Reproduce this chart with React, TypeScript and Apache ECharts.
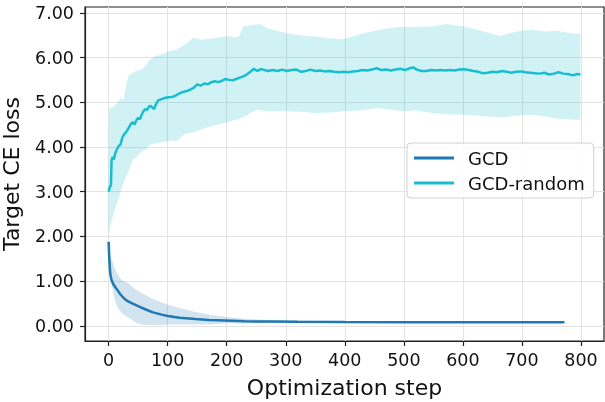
import React, { useEffect, useRef } from "react";
import * as echarts from "echarts";

const X_TICKS = [0, 100, 200, 300, 400, 500, 600, 700, 800];
const Y_TICKS = [0, 1, 2, 3, 4, 5, 6, 7];

// GCD (mean)
const GCD_STEPS = [0, 1, 2, 3, 5, 8, 12, 16, 20, 25, 30, 40, 50, 62, 75, 90, 100, 120, 147, 170, 197, 230, 270, 320, 400, 500, 600, 700, 772];
const GCD_MEAN = [1.88, 1.55, 1.3, 1.15, 1.02, 0.93, 0.85, 0.78, 0.7, 0.63, 0.57, 0.5, 0.44, 0.37, 0.3, 0.25, 0.22, 0.18, 0.15, 0.13, 0.12, 0.1, 0.095, 0.09, 0.085, 0.08, 0.08, 0.08, 0.08];
// GCD band
const GCD_BAND_STEPS = [0, 2, 4, 6, 10, 14, 17, 20, 25, 34, 45, 55, 62, 75, 90, 101, 120, 147, 170, 197, 230, 270, 320, 400, 500, 600, 700, 772];
const GCD_UPPER = [1.88, 1.65, 1.52, 1.45, 1.3, 1.18, 1.12, 1.05, 1.0, 0.95, 0.82, 0.74, 0.69, 0.6, 0.52, 0.47, 0.4, 0.31, 0.25, 0.2, 0.16, 0.13, 0.12, 0.11, 0.105, 0.1, 0.1, 0.1];
const GCD_LOWER = [1.88, 1.3, 1.0, 0.85, 0.6, 0.45, 0.38, 0.32, 0.25, 0.18, 0.08, 0.03, 0.02, 0.02, 0.02, 0.03, 0.03, 0.03, 0.03, 0.05, 0.05, 0.06, 0.06, 0.06, 0.06, 0.06, 0.06, 0.06];

// GCD-random (mean)
const RND_STEPS = [0, 2, 4, 5, 7, 9, 11, 14, 17, 20, 23, 26, 29, 32, 35, 38, 41, 44, 47, 50, 53, 56, 59, 62, 65, 68, 71, 74, 77, 80, 84, 90, 96, 102, 108, 114, 120, 126, 132, 138, 144, 150, 156, 162, 168, 174, 180, 186, 192, 198, 204, 210, 216, 222, 228, 234, 240, 246, 252, 258, 264, 270, 278, 286, 294, 302, 310, 318, 326, 334, 342, 350, 358, 366, 374, 382, 390, 398, 406, 414, 422, 430, 438, 446, 454, 462, 470, 478, 486, 494, 502, 510, 516, 522, 530, 538, 546, 554, 562, 570, 578, 586, 594, 602, 610, 618, 626, 634, 642, 650, 658, 666, 674, 682, 690, 698, 706, 714, 722, 730, 738, 746, 754, 762, 770, 778, 786, 794, 799];
const RND_MEAN = [3.0, 3.1, 3.15, 3.7, 3.78, 3.72, 3.85, 3.95, 4.02, 4.05, 4.2, 4.28, 4.32, 4.38, 4.45, 4.52, 4.55, 4.5, 4.6, 4.65, 4.62, 4.72, 4.8, 4.85, 4.82, 4.9, 4.92, 4.88, 4.85, 4.95, 5.04, 5.07, 5.1, 5.11, 5.12, 5.15, 5.2, 5.23, 5.25, 5.28, 5.32, 5.4, 5.37, 5.42, 5.4, 5.45, 5.47, 5.45, 5.48, 5.52, 5.5, 5.49, 5.52, 5.55, 5.58, 5.62, 5.68, 5.75, 5.7, 5.74, 5.72, 5.7, 5.72, 5.7, 5.73, 5.7, 5.72, 5.73, 5.68, 5.7, 5.73, 5.7, 5.71, 5.69, 5.7, 5.68, 5.67, 5.68, 5.67, 5.69, 5.7, 5.72, 5.71, 5.73, 5.76, 5.72, 5.73, 5.71, 5.73, 5.75, 5.72, 5.76, 5.78, 5.73, 5.7, 5.7, 5.72, 5.71, 5.72, 5.71, 5.72, 5.71, 5.73, 5.74, 5.72, 5.7, 5.68, 5.65, 5.66, 5.68, 5.67, 5.7, 5.68, 5.66, 5.68, 5.69, 5.67, 5.66, 5.65, 5.64, 5.66, 5.62, 5.64, 5.67, 5.64, 5.63, 5.6, 5.63, 5.62];
// GCD-random band
const RND_UP_STEPS = [0, 1, 4, 8, 12, 16, 20, 25, 30, 34, 40, 46, 52, 58, 64, 70, 77, 85, 95, 105, 115, 125, 135, 144, 155, 170, 185, 200, 215, 222, 228, 240, 256, 270, 285, 300, 324, 350, 375, 397, 415, 437, 460, 490, 520, 550, 572, 600, 625, 645, 662, 680, 700, 718, 740, 760, 780, 799];
const RND_UPPER = [4.4, 4.85, 4.88, 4.9, 4.95, 5.0, 5.1, 5.05, 5.4, 5.6, 5.65, 5.7, 5.72, 5.75, 5.85, 5.95, 6.02, 6.05, 6.1, 6.15, 6.18, 6.25, 6.35, 6.45, 6.4, 6.42, 6.45, 6.48, 6.45, 6.5, 6.7, 6.72, 6.75, 6.65, 6.6, 6.55, 6.5, 6.47, 6.43, 6.41, 6.48, 6.56, 6.62, 6.68, 6.68, 6.7, 6.75, 6.7, 6.62, 6.55, 6.48, 6.55, 6.6, 6.62, 6.58, 6.6, 6.55, 6.52];
const RND_LO_STEPS = [0, 4, 8, 12, 16, 20, 25, 29, 35, 42, 46, 55, 63, 70, 80, 96, 105, 115, 125, 133, 145, 155, 170, 185, 200, 215, 230, 250, 270, 300, 324, 350, 375, 400, 430, 454, 480, 500, 520, 548, 570, 600, 625, 645, 670, 690, 718, 740, 760, 780, 799];
const RND_LOWER = [2.0, 2.3, 2.5, 2.66, 2.8, 3.0, 3.2, 3.33, 3.5, 3.75, 3.75, 3.9, 3.95, 4.05, 4.08, 4.12, 4.15, 4.12, 4.25, 4.31, 4.33, 4.38, 4.45, 4.5, 4.55, 4.6, 4.68, 4.83, 4.8, 4.8, 4.79, 4.76, 4.77, 4.8, 4.82, 4.87, 4.83, 4.8, 4.82, 4.76, 4.73, 4.72, 4.7, 4.68, 4.66, 4.7, 4.72, 4.68, 4.63, 4.62, 4.6];

const C_GCD = "#1f77b4";
const C_RND = "#17becf";
const FONT = "DejaVu Sans";

function zip(xs: number[], ys: number[]) {
  return xs.map((x, i) => [x, ys[i]]);
}

function bandSeries(upX: number[], up: number[], loX: number[], lo: number[], color: string, z: number) {
  return {
    type: "custom",
    coordinateSystem: "cartesian2d",
    silent: true,
    z,
    data: [[0, 0]],
    renderItem: (_params: any, api: any) => {
      const pts: number[][] = [];
      upX.forEach((x, i) => pts.push(api.coord([x, up[i]])));
      for (let i = loX.length - 1; i >= 0; i--) pts.push(api.coord([loX[i], lo[i]]));
      return {
        type: "polygon",
        shape: { points: pts },
        style: { fill: color, opacity: 0.2 },
      };
    },
  };
}

export default function App() {
  const ref = useRef<HTMLDivElement>(null);
  useEffect(() => {
    if (!ref.current) return;
    const chart = echarts.init(ref.current, null, { renderer: "svg" });
    const axisColor = "#222";
    chart.setOption({
      animation: false,
      textStyle: { fontFamily: FONT },
      grid: {
        left: 85,
        top: 7,
        right: 1,
        bottom: 61,
        containLabel: false,
        outerBoundsMode: "none",
        show: true,
        borderColor: axisColor,
        borderWidth: 1.2,
        backgroundColor: "transparent",
      },
      legend: {
        orient: "vertical",
        left: 407,
        top: 143,
        padding: [6, 9, 6, 7],
        itemWidth: 40,
        itemHeight: 3,
        itemGap: 7,
        icon: "rect",
        backgroundColor: "rgba(255,255,255,0.85)",
        borderColor: "#d0d0d0",
        borderWidth: 1,
        borderRadius: 4,
        textStyle: { fontFamily: FONT, fontSize: 18, color: "#111", padding: [0, 0, 0, 9] },
        data: ["GCD", "GCD-random"],
      },
      xAxis: {
        type: "value",
        min: -40,
        max: 839,
        name: "Optimization step",
        nameLocation: "middle",
        nameGap: 35,
        nameTextStyle: { fontFamily: FONT, fontSize: 22, color: "#111" },
        axisLine: { show: true, onZero: false, lineStyle: { color: axisColor, width: 1.2 } },
        axisTick: { show: true, inside: false, length: 5, customValues: X_TICKS, lineStyle: { color: axisColor, width: 1.2 } },
        axisLabel: { customValues: X_TICKS, fontFamily: FONT, fontSize: 17.5, color: "#111", margin: 10 },
        splitLine: { show: true, lineStyle: { color: "#e3e3e3", width: 1 } },
      },
      yAxis: {
        type: "value",
        min: -0.34,
        max: 7.13,
        name: "Target CE loss",
        nameLocation: "middle",
        nameGap: 63,
        nameTextStyle: { fontFamily: FONT, fontSize: 22, color: "#111" },
        axisLine: { show: true, onZero: false, lineStyle: { color: axisColor, width: 1.2 } },
        axisTick: { show: true, inside: false, length: 5, customValues: Y_TICKS, lineStyle: { color: axisColor, width: 1.2 } },
        axisLabel: {
          customValues: Y_TICKS,
          fontFamily: FONT,
          fontSize: 17.5,
          color: "#111",
          margin: 11,
          formatter: (v: number) => v.toFixed(2),
        },
        splitLine: { show: true, lineStyle: { color: "#e3e3e3", width: 1 } },
      },
      series: [
        bandSeries(GCD_BAND_STEPS, GCD_UPPER, GCD_BAND_STEPS, GCD_LOWER, C_GCD, 1),
        bandSeries(RND_UP_STEPS, RND_UPPER, RND_LO_STEPS, RND_LOWER, C_RND, 1),
        {
          name: "GCD",
          type: "line",
          data: zip(GCD_STEPS, GCD_MEAN),
          showSymbol: false,
          symbol: "none",
          color: C_GCD,
          lineStyle: { color: C_GCD, width: 2.5 },
          z: 3,
        },
        {
          name: "GCD-random",
          type: "line",
          data: zip(RND_STEPS, RND_MEAN),
          showSymbol: false,
          symbol: "none",
          color: C_RND,
          lineStyle: { color: C_RND, width: 2.5 },
          z: 4,
        },
      ],
    });
    return () => chart.dispose();
  }, []);
  return <div ref={ref} style={{ position: "fixed", left: 0, top: 0, width: 605, height: 402 }} />;
}
